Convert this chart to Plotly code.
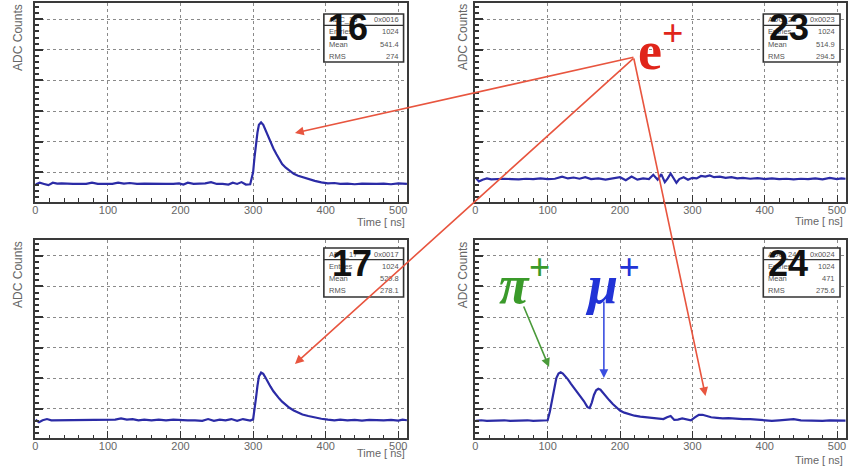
import plotly.graph_objects as go

W, H = 848, 469

# ---------------- data ----------------
t16 = [0, 6, 12, 18, 24, 30, 36, 44, 52, 60, 70, 78, 86, 96, 106, 114, 122, 130, 140, 150,
       160, 170, 180, 190, 198, 204, 210, 218, 226, 234, 242, 250, 258, 266, 272, 278, 284,
       290, 296, 300, 302, 304, 306, 308, 311, 314, 317, 320, 324, 328, 332, 336, 340, 345,
       350, 356, 362, 368, 376, 385, 394, 403, 412, 420, 430, 440, 450, 460, 470, 480, 490,
       500, 506, 512]
v16 = [0.60, 0.66, 0.62, 0.58, 0.66, 0.63, 0.64, 0.62, 0.62, 0.62, 0.62, 0.66, 0.62, 0.62,
       0.62, 0.66, 0.63, 0.65, 0.62, 0.63, 0.62, 0.62, 0.62, 0.62, 0.64, 0.60, 0.66, 0.62,
       0.62, 0.64, 0.68, 0.62, 0.62, 0.60, 0.66, 0.62, 0.68, 0.60, 0.61, 1.00, 1.50, 1.95,
       2.30, 2.55, 2.63, 2.55, 2.38, 2.20, 1.95, 1.78, 1.60, 1.42, 1.27, 1.15, 1.05, 0.95,
       0.89, 0.84, 0.78, 0.72, 0.67, 0.64, 0.65, 0.62, 0.63, 0.61, 0.63, 0.62, 0.62, 0.63,
       0.61, 0.64, 0.62, 0.62]

t23 = [0, 5, 10, 16, 22, 30, 40, 50, 60, 70, 80, 90, 100, 110, 120, 128, 136, 144, 152, 160,
       170, 180, 190, 200, 208, 216, 224, 232, 240, 246, 252, 257, 262, 266, 270, 274, 278,
       282, 288, 294, 300, 306, 312, 318, 324, 330, 338, 346, 354, 362, 370, 380, 390, 400,
       410, 420, 430, 440, 450, 460, 470, 480, 490, 500, 506, 512]
v23 = [0.83, 0.70, 0.76, 0.80, 0.77, 0.78, 0.79, 0.78, 0.77, 0.79, 0.78, 0.80, 0.78, 0.79,
       0.86, 0.80, 0.83, 0.79, 0.84, 0.78, 0.80, 0.76, 0.79, 0.84, 0.74, 0.86, 0.76, 0.80,
       0.78, 0.92, 0.76, 0.94, 0.68, 0.80, 0.96, 0.82, 0.66, 0.78, 0.84, 0.76, 0.82, 0.80,
       0.88, 0.86, 0.90, 0.84, 0.86, 0.82, 0.84, 0.80, 0.82, 0.79, 0.81, 0.78, 0.80, 0.78,
       0.79, 0.77, 0.79, 0.78, 0.80, 0.77, 0.82, 0.78, 0.80, 0.79]

t17 = [0, 5, 10, 16, 22, 30, 40, 50, 60, 70, 80, 90, 100, 110, 118, 126, 134, 142, 150, 160,
       170, 180, 190, 200, 210, 220, 230, 238, 246, 254, 262, 270, 278, 286, 292, 296, 300,
       302, 304, 306, 308, 311, 314, 317, 320, 324, 328, 332, 336, 340, 345, 350, 356, 362,
       368, 376, 385, 394, 403, 412, 420, 430, 440, 450, 460, 470, 480, 490, 500, 506, 512]
v17 = [0.64, 0.56, 0.62, 0.66, 0.62, 0.62, 0.62, 0.62, 0.62, 0.62, 0.62, 0.62, 0.62, 0.64,
       0.68, 0.64, 0.66, 0.62, 0.64, 0.62, 0.64, 0.62, 0.64, 0.62, 0.62, 0.62, 0.60, 0.66,
       0.60, 0.64, 0.62, 0.66, 0.60, 0.66, 0.62, 0.61, 0.65, 0.95, 1.35, 1.75, 2.05, 2.18,
       2.14, 2.02, 1.88, 1.72, 1.57, 1.44, 1.33, 1.23, 1.12, 1.03, 0.94, 0.87, 0.81, 0.76,
       0.71, 0.67, 0.64, 0.62, 0.64, 0.62, 0.63, 0.61, 0.63, 0.62, 0.62, 0.63, 0.61, 0.64,
       0.62]

t24 = [0, 8, 16, 24, 32, 40, 48, 56, 64, 72, 80, 88, 96, 100, 103, 106, 109, 112, 115, 118,
       121, 124, 128, 132, 136, 140, 145, 150, 155, 158, 161, 164, 167, 170, 173, 176, 180,
       185, 190, 195, 200, 206, 212, 220, 228, 236, 244, 252, 260, 265, 270, 275, 280, 286,
       292, 298, 304, 309, 314, 320, 326, 334, 342, 350, 360, 370, 380, 390, 400, 410, 420,
       430, 440, 450, 460, 470, 480, 490, 500, 506, 512]
v24 = [0.60, 0.62, 0.60, 0.61, 0.60, 0.62, 0.60, 0.61, 0.60, 0.62, 0.60, 0.61, 0.60, 0.62,
       0.90, 1.30, 1.70, 2.00, 2.15, 2.19, 2.15, 2.07, 1.96, 1.82, 1.70, 1.57, 1.42, 1.25,
       1.05, 1.02, 1.20, 1.45, 1.60, 1.65, 1.62, 1.53, 1.42, 1.28, 1.15, 1.03, 0.94, 0.87,
       0.82, 0.77, 0.74, 0.72, 0.69, 0.68, 0.66, 0.72, 0.76, 0.63, 0.64, 0.68, 0.64, 0.62,
       0.72, 0.80, 0.80, 0.75, 0.72, 0.70, 0.68, 0.69, 0.67, 0.66, 0.66, 0.64, 0.62, 0.60,
       0.62, 0.63, 0.66, 0.62, 0.61, 0.62, 0.60, 0.62, 0.61, 0.60, 0.61]

channels = ["16", "23", "17", "24"]
stat_ids = ["0x0016", "0x0023", "0x0017", "0x0024"]
entries = ["1024", "1024", "1024", "1024"]
means = ["541.4", "514.9", "529.8", "471"]
rmss = ["274", "294.5", "278.1", "275.6"]
x_ticks = [0, 100, 200, 300, 400, 500]
x_title = "Time [ ns]"
y_title = "ADC Counts"

# ---------------- figure ----------------
def px(x):
    return x / W

def py(y):
    return 1 - y / H

fig = go.Figure()
series = [(t16, v16), (t23, v23), (t17, v17), (t24, v24)]
LINE = "#2b2ba6"
for i, (t, v) in enumerate(series):
    sfx = "" if i == 0 else str(i + 1)
    fig.add_trace(go.Scatter(x=t, y=v, mode="lines", xaxis="x" + sfx, yaxis="y" + sfx,
                             line=dict(color=LINE, width=2.2), showlegend=False,
                             hoverinfo="skip"))

xdom = [[32.5 / W, 405.4 / W], [474 / W, 845.7 / W]]
ydom = [[1 - 201.7 / H, 1 - 3.3 / H], [1 - 438 / H, 1 - 240 / H]]
layout = {}
for i in range(4):
    sfx = "" if i == 0 else str(i + 1)
    col, row = i % 2, i // 2
    layout["xaxis" + sfx] = dict(
        domain=xdom[col], range=[0, 512], anchor="y" + sfx,
        tickvals=x_ticks, ticktext=[str(v) for v in x_ticks],
        showgrid=True, gridcolor="#8a8a8a", griddash="dot", gridwidth=1,
        ticks="inside", ticklen=7, tickwidth=1.2, tickcolor="#333",
        minor=dict(dtick=20, tick0=0, ticks="inside", ticklen=3.5, tickcolor="#333",
                   showgrid=False),
        showline=True, linecolor="#3a3a3a", linewidth=1.5, mirror=True,
        zeroline=False, ticklabelstandoff=-3,
        tickfont=dict(family="Liberation Sans", size=11, color="#666"),
        fixedrange=True)
    layout["yaxis" + sfx] = dict(
        domain=ydom[row], range=[0.04, 6.52], anchor="x" + sfx,
        dtick=1, tick0=0, showticklabels=False,
        showgrid=True, gridcolor="#8a8a8a", griddash="dot", gridwidth=1,
        ticks="inside", ticklen=8, tickwidth=1.5, tickcolor="#333",
        minor=dict(dtick=0.2, tick0=0, ticks="inside", ticklen=4, tickcolor="#333",
                   showgrid=False),
        showline=True, linecolor="#3a3a3a", linewidth=1.5, mirror=True,
        zeroline=False, fixedrange=True)

fig.update_layout(**layout)

annotations = []
shapes = []

# axis titles
ylab_pos = [(15, 37), (462, 37), (15, 274), (462, 275)]
xlab_pos = [(405, 222, "right"), (793, 221, "left"), (405, 453, "right"), (793, 460, "left")]
for i in range(4):
    x, y = ylab_pos[i]
    annotations.append(dict(text=y_title, x=px(x), y=py(y), xref="paper", yref="paper",
                            showarrow=False, textangle=-90, xanchor="center", yanchor="middle",
                            font=dict(family="Liberation Sans", size=12, color="#666")))
    x, y, anc = xlab_pos[i]
    annotations.append(dict(text=x_title, x=px(x), y=py(y), xref="paper", yref="paper",
                            showarrow=False, xanchor=anc, yanchor="middle",
                            font=dict(family="Liberation Sans", size=11, color="#666")))

# stat boxes
boxes = [(322, 402, 14, 62), (763, 840, 14, 62), (322, 402, 248, 297), (763, 840, 248, 297)]
num_pos = [(346, 28), (789, 28), (350, 263), (788, 263)]
SF = dict(family="Liberation Sans", size=7.5, color="#555")
for i in range(4):
    x0, x1, y0, y1 = boxes[i]
    shapes.append(dict(type="rect", xref="paper", yref="paper", x0=px(x0), x1=px(x1),
                       y0=py(y1), y1=py(y0), fillcolor="white",
                       line=dict(color="#333", width=1.6), layer="above"))
    rh = (y1 - y0) / 4.0
    shapes.append(dict(type="line", xref="paper", yref="paper", x0=px(x0), x1=px(x1),
                       y0=py(y0 + rh * 0.95), y1=py(y0 + rh * 0.95),
                       line=dict(color="#333", width=1.2), layer="above"))
    rows = [("ADC_" + channels[i], stat_ids[i]), ("Entries", entries[i]),
            ("Mean", means[i]), ("RMS", rmss[i])]
    for r, (lab, val) in enumerate(rows):
        yc = y0 + rh * (r + 0.5)
        annotations.append(dict(text=lab, x=px(x0 + 3), y=py(yc), xref="paper", yref="paper",
                                showarrow=False, xanchor="left", yanchor="middle", font=SF))
        annotations.append(dict(text=val, x=px(x1 - 3), y=py(yc), xref="paper", yref="paper",
                                showarrow=False, xanchor="right", yanchor="middle", font=SF))
    nx, ny = num_pos[i]
    annotations.append(dict(text="<b>" + channels[i] + "</b>", x=px(nx), y=py(ny),
                            xref="paper", yref="paper", showarrow=False,
                            xanchor="center", yanchor="middle",
                            font=dict(family="Liberation Sans", size=36, color="#111")))

# particle labels
annotations.append(dict(text="<b>e<sup>+</sup></b>", x=px(660), y=py(46), xref="paper",
                        yref="paper", showarrow=False, xanchor="center", yanchor="middle",
                        font=dict(family="Liberation Serif", size=54, color="#e0251a")))
annotations.append(dict(text="<b><i>π<sup>+</sup></i></b>", x=px(523), y=py(280), xref="paper",
                        yref="paper", showarrow=False, xanchor="center", yanchor="middle",
                        font=dict(family="Liberation Serif", size=54, color="#3a9a2a")))
annotations.append(dict(text="<b><i>μ<sup>+</sup></i></b>", x=px(612), y=py(280), xref="paper",
                        yref="paper", showarrow=False, xanchor="center", yanchor="middle",
                        font=dict(family="Liberation Serif", size=54, color="#2233d6")))

# arrows (tail -> head), pixel positions
arrows = [((633, 57), (293, 133), "#e8553f"),
          ((633, 57), (293, 364), "#e8553f"),
          ((633, 57), (705, 396), "#e8553f"),
          ((522, 305), (548, 367), "#4a9a3a"),
          ((603, 300), (603, 378), "#3b4fe0")]
for (tx, ty), (hx, hy), c in arrows:
    annotations.append(dict(x=px(hx), y=py(hy), xref="paper", yref="paper",
                            ax=tx - hx, ay=ty - hy, axref="pixel", ayref="pixel",
                            showarrow=True, arrowhead=2, arrowsize=1.1, arrowwidth=1.6,
                            arrowcolor=c, text="", standoff=0))

fig.update_layout(width=W, height=H, margin=dict(l=0, r=0, t=0, b=0),
                  paper_bgcolor="white", plot_bgcolor="white",
                  annotations=annotations, shapes=shapes, showlegend=False)

fig.write_html("out.html", config={"displayModeBar": False},
               post_script="document.body.style.margin='0px';"
                           "document.body.style.overflow='hidden';")
